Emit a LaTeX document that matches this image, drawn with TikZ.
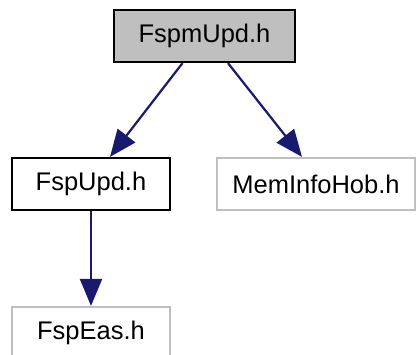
\documentclass[tikz,border=0pt]{standalone}
\usepackage{fontspec}
\setmainfont{Liberation Sans}
\usepackage{tikz}
\usetikzlibrary{arrows.meta}
\definecolor{edgeblue}{RGB}{25,25,112}
\definecolor{boxgray}{RGB}{191,191,191}
\definecolor{lightedge}{RGB}{191,191,191}

\begin{document}
\begin{tikzpicture}[x=1pt, y=1pt, every node/.style={rectangle, draw, line width=2.2pt, minimum height=52pt, inner sep=0pt, font=\fontsize{25.5}{25.5}\selectfont}, dep/.style={draw=edgeblue, line width=2.2pt, -{Triangle[length=27pt, width=22pt]}}]
\useasboundingbox (0,0) rectangle (417,-354);

% Files placed by layers
\node[fill=boxgray, minimum width=181pt] (fspm) at (204.5,-36) {FspmUpd.h}; % Top
\node[minimum width=158pt] (upd) at (91,-184) {FspUpd.h}; % Middle-left
\node[draw=lightedge, minimum width=198pt] (mem) at (316,-184) {MemInfoHob.h}; % Middle-right
\node[draw=lightedge, minimum width=158pt] (eas) at (91,-333) {FspEas.h}; % Bottom

% Include edges
\draw[dep] ([xshift=-22pt]fspm.south) -- ([xshift=19pt]upd.north);
\draw[dep] ([xshift=23.5pt]fspm.south) -- ([xshift=-14pt]mem.north);
\draw[dep] (upd.south) -- (eas.north);
\end{tikzpicture}
\end{document}
